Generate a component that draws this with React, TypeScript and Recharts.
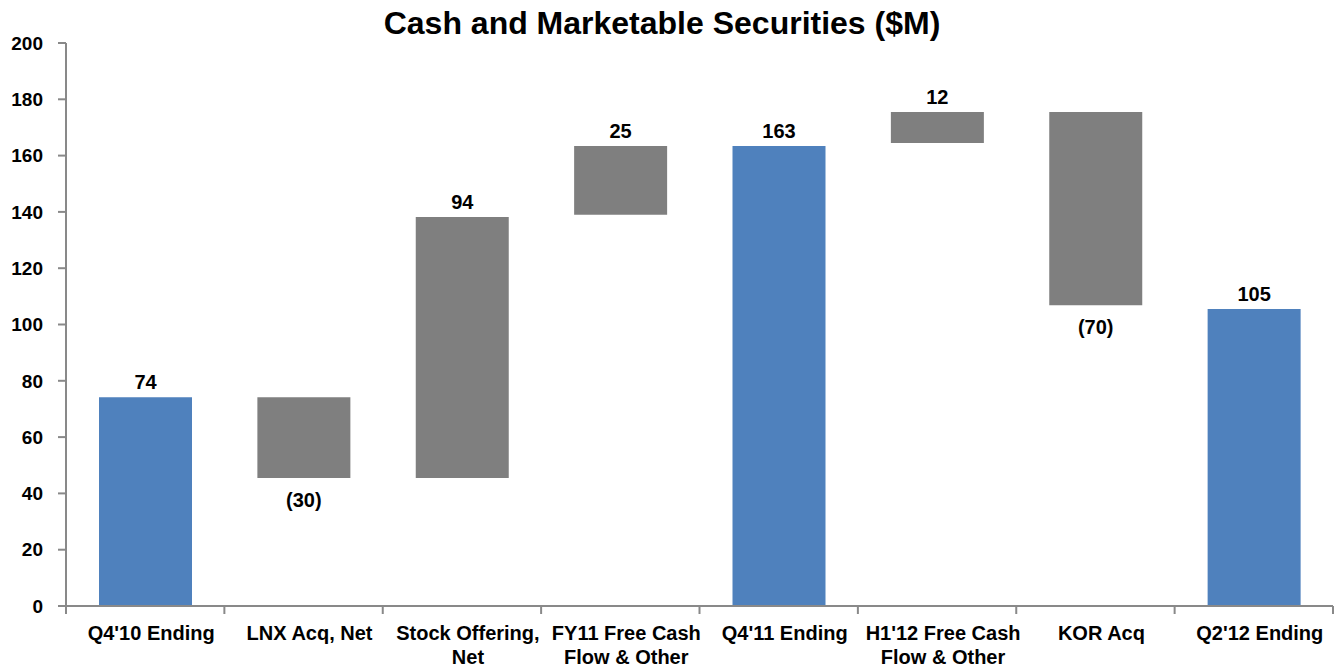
import { BarChart, Bar, XAxis, YAxis, Cell, LabelList } from "recharts";

const categories = [
  "Q4'10 Ending",
  "LNX Acq, Net",
  "Stock Offering,\nNet",
  "FY11 Free Cash\nFlow & Other",
  "Q4'11 Ending",
  "H1'12 Free Cash\nFlow & Other",
  "KOR Acq",
  "Q2'12 Ending",
];
const barLow = [0, 45.5, 45.5, 139, 0, 164.5, 106.8, 0];
const barHigh = [74.2, 74.2, 138.2, 163.4, 163.4, 175.5, 175.5, 105.5];
const valueLabels = ["74", "(30)", "94", "25", "163", "12", "(70)", "105"];
const isTotal = [true, false, false, false, true, false, false, true];
const isDecrease = [false, true, false, false, false, false, true, false];
const yTicks = [0, 20, 40, 60, 80, 100, 120, 140, 160, 180, 200];

const BLUE = "#4F81BD";
const GREY = "#7F7F7F";
const AXIS = "#898989";
const FONT = "'Liberation Sans', Arial, sans-serif";

const data = categories.map((name, i) => ({
  name,
  base: barLow[i],
  span: barHigh[i] - barLow[i],
}));

const XTick = (props: any) => {
  const { x, y, payload, index } = props;
  const off = payload?.offset ?? 79.2;
  const lines = String(payload.value).split("\n");
  const tx = x + 6;
  return (
    <g>
      <line x1={x - off} x2={x - off} y1={y} y2={y + 8} stroke={AXIS} strokeWidth={2} />
      {index === categories.length - 1 && (
        <line x1={x + off} x2={x + off} y1={y} y2={y + 8} stroke={AXIS} strokeWidth={2} />
      )}
      <text x={tx} y={y} textAnchor="middle" fontFamily={FONT} fontWeight="bold" fontSize={20} fill="#000">
        {lines.map((l, i) => (
          <tspan key={i} x={tx} dy={i === 0 ? 34 : 24}>
            {l}
          </tspan>
        ))}
      </text>
    </g>
  );
};

const ValueLabel = (props: any) => {
  const { x, y, width, height, index } = props;
  const cx = Number(x) + Number(width) / 2;
  const below = isDecrease[index];
  const ty = below ? Number(y) + Number(height) + 29 : Number(y) - 8;
  return (
    <text x={cx} y={ty} textAnchor="middle" fontFamily={FONT} fontWeight="bold" fontSize={20} fill="#000">
      {valueLabels[index]}
    </text>
  );
};

export default function App() {
  return (
    <div style={{ position: "absolute", left: 0, top: 0, width: 1343, height: 671, background: "#fff" }}>
      <div
        style={{
          position: "absolute",
          left: 0,
          width: 1324,
          top: 4,
          textAlign: "center",
          fontFamily: FONT,
          fontWeight: "bold",
          fontSize: 32,
          color: "#000",
          lineHeight: "38px",
        }}
      >
        Cash and Marketable Securities ($M)
      </div>
      <BarChart width={1343} height={671} data={data} margin={{ top: 43, right: 10, bottom: 0, left: 0 }}>
        <XAxis
          dataKey="name"
          interval={0}
          height={65}
          tickLine={false}
          tickSize={0}
          tickMargin={0}
          axisLine={{ stroke: AXIS, strokeWidth: 2 }}
          tick={<XTick />}
        />
        <YAxis
          width={66}
          domain={[0, 200]}
          ticks={yTicks}
          interval={0}
          tickSize={8}
          tickMargin={15}
          axisLine={{ stroke: AXIS, strokeWidth: 2 }}
          tickLine={{ stroke: AXIS, strokeWidth: 2 }}
          tick={{ fontFamily: FONT, fontWeight: "bold", fontSize: 19, fill: "#000" }}
        />
        <Bar dataKey="base" stackId="w" fill="transparent" isAnimationActive={false} barSize={93} />
        <Bar dataKey="span" stackId="w" isAnimationActive={false} barSize={93}>
          {data.map((_, i) => (
            <Cell key={i} fill={isTotal[i] ? BLUE : GREY} />
          ))}
          <LabelList dataKey="span" content={<ValueLabel />} />
        </Bar>
      </BarChart>
    </div>
  );
}
